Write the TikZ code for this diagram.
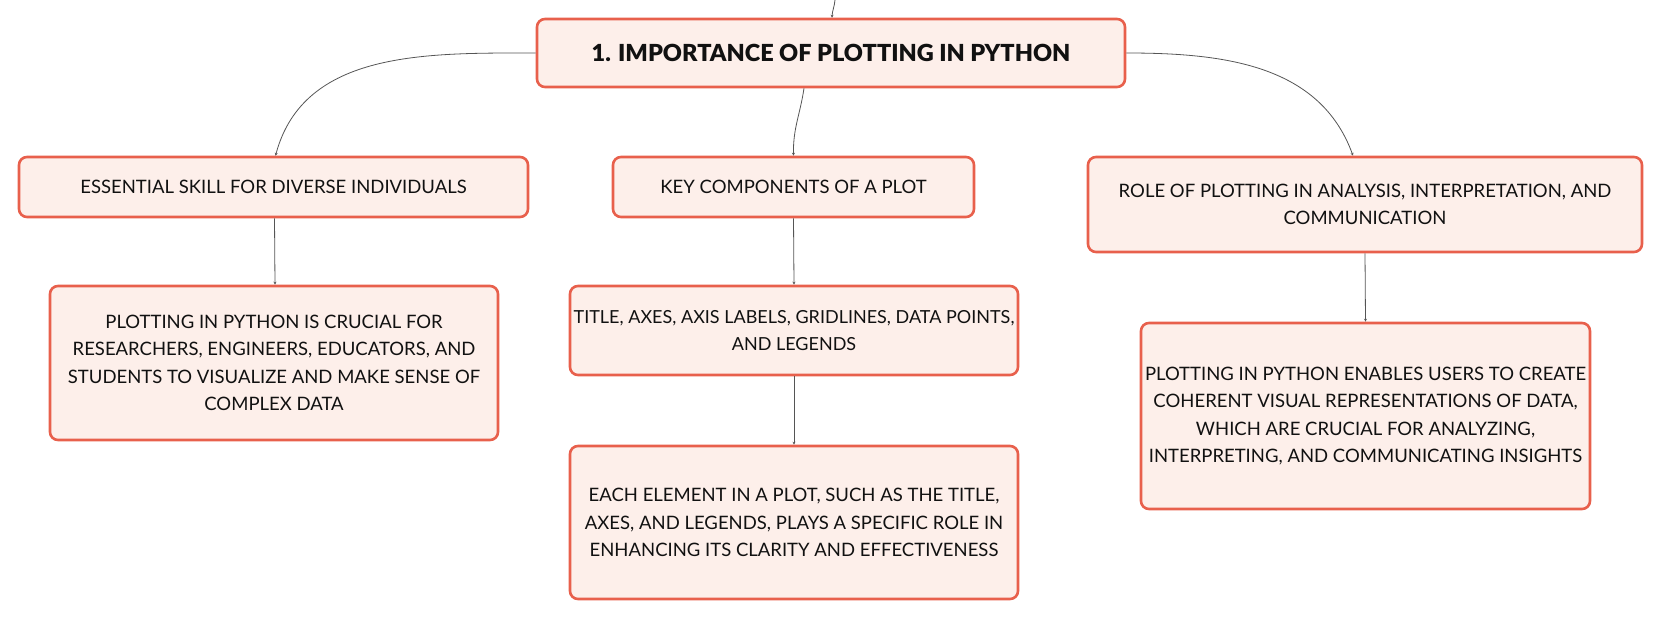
\documentclass[tikz,border=0pt]{standalone}
\usepackage{fontspec}
\setmainfont{Lato}
\newfontfamily\titlefont{Lato Black}
\usetikzlibrary{arrows.meta}
\definecolor{boxborder}{HTML}{E8604C}
\definecolor{boxfill}{HTML}{FDEFEA}
\definecolor{linkgray}{HTML}{555555}
\definecolor{txt}{HTML}{111111}
\begin{document}
\begin{tikzpicture}[x=1pt,y=-1pt,
  box/.style={draw=boxborder, fill=boxfill, line width=2.6pt, rounded corners=8pt,
    align=center, inner sep=0pt, text=txt, font=\fontsize{18.5}{27.5}\selectfont},
  titlebox/.style={box, font=\fontsize{23.5}{26}\selectfont\titlefont},
  link/.style={draw=linkgray, line width=0.8pt, -{Stealth[length=3pt,width=3pt]}}]
\useasboundingbox (0,0) rectangle (1663,620);
\node[titlebox, minimum width=588pt, minimum height=68pt] (top) at (831,53) {1. IMPORTANCE OF PLOTTING IN PYTHON};
\node[box, minimum width=509pt, minimum height=60pt] (A) at (273.5,187) {ESSENTIAL SKILL FOR DIVERSE INDIVIDUALS};
\node[box, minimum width=448pt, minimum height=154pt] (A1) at (274,363) {PLOTTING IN PYTHON IS CRUCIAL FOR\\RESEARCHERS, ENGINEERS, EDUCATORS, AND\\STUDENTS TO VISUALIZE AND MAKE SENSE OF\\COMPLEX DATA};
\node[box, minimum width=361pt, minimum height=60pt] (B) at (793.5,187) {KEY COMPONENTS OF A PLOT};
\node[box, minimum width=448pt, minimum height=89pt, font=\fontsize{18}{27.5}\selectfont] (B1) at (794,330.5) {TITLE, AXES, AXIS LABELS, GRIDLINES, DATA POINTS,\\AND LEGENDS};
\node[box, minimum width=448pt, minimum height=153pt] (B2) at (794,522.5) {EACH ELEMENT IN A PLOT, SUCH AS THE TITLE,\\AXES, AND LEGENDS, PLAYS A SPECIFIC ROLE IN\\ENHANCING ITS CLARITY AND EFFECTIVENESS};
\node[box, minimum width=554pt, minimum height=95pt] (C) at (1365,204.5) {ROLE OF PLOTTING IN ANALYSIS, INTERPRETATION, AND\\COMMUNICATION};
\node[box, minimum width=449pt, minimum height=186pt] (C1) at (1365.5,416) {PLOTTING IN PYTHON ENABLES USERS TO CREATE\\COHERENT VISUAL REPRESENTATIONS OF DATA,\\WHICH ARE CRUCIAL FOR ANALYZING,\\INTERPRETING, AND COMMUNICATING INSIGHTS};
\coordinate (src) at (835,0);
\draw[link] (src) to[out=-95,in=88] ([xshift=1pt]top.north);
\draw[link] (top.west) to[out=180,in=75] ([xshift=2pt]A.north);
\draw[link] ([xshift=-27pt]top.south) .. controls (800,115) and (793,128) .. (B.north);
\draw[link] (top.east) to[out=0,in=110] ([xshift=-12pt]C.north);
\draw[link] ([xshift=1pt]A.south) -- ([xshift=1pt]A1.north);
\draw[link] (B.south) -- (B1.north);
\draw[link] (B1.south) -- (B2.north);
\draw[link] (C.south) -- (C1.north);
\end{tikzpicture}
\end{document}
